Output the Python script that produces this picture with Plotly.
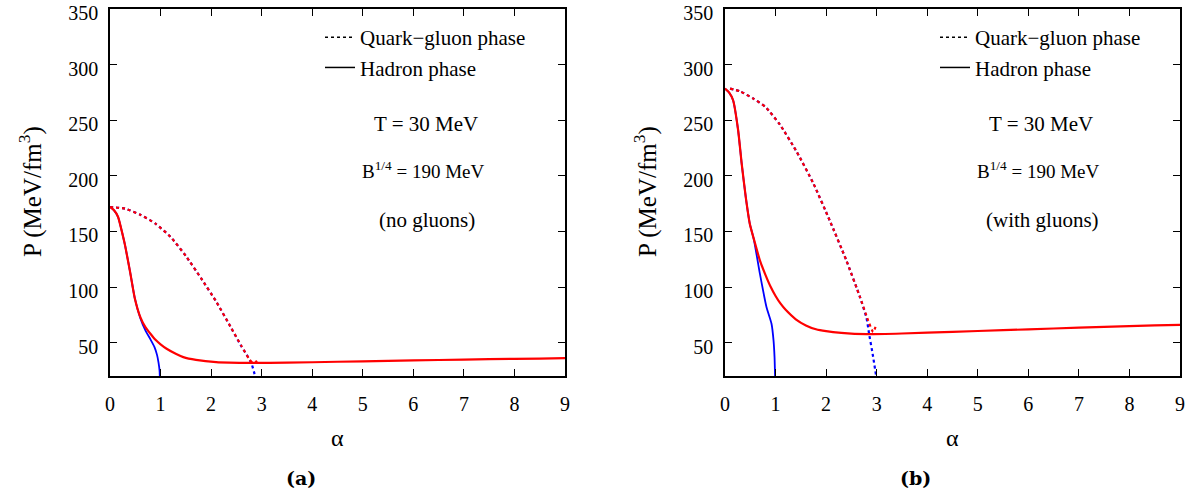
import plotly.graph_objects as go

# ---------------- data ----------------
# Panel (a): no gluons
a_had_red_x = [0, 0.08, 0.16, 0.25, 0.3, 0.4, 0.49, 0.6, 0.7, 0.8, 0.9, 1.0, 1.12, 1.3, 1.45, 1.7, 2.1, 2.8, 3.5, 4.5, 5.5, 6.5, 7.5, 8.5, 9.0]
a_had_red_y = [172, 169, 163, 147, 137, 113, 90, 73, 64, 58, 52.5, 48.5, 44.5, 40, 37, 34.5, 32.5, 31.8, 32.0, 32.8, 33.6, 34.4, 35.1, 35.7, 36.0]
a_had_blue_x = [0, 0.08, 0.16, 0.25, 0.3, 0.4, 0.49, 0.6, 0.7, 0.8, 0.88, 0.93, 0.96, 0.98, 0.985]
a_had_blue_y = [172, 169, 163, 147, 137, 113, 90, 72, 61, 53, 46, 39, 32, 25, 20]
a_qg_red_x = [0, 0.3, 0.6, 0.9, 1.2, 1.5, 1.8, 2.1, 2.4, 2.6, 2.75, 2.82, 2.88, 2.93]
a_qg_red_y = [172, 170.5, 165, 157, 145, 128, 108, 87, 63, 47, 35.5, 32, 32.5, 35.5]
a_qg_blue_x = [0, 0.3, 0.6, 0.9, 1.2, 1.5, 1.8, 2.1, 2.4, 2.6, 2.7, 2.8, 2.87]
a_qg_blue_y = [172, 170.5, 165, 157, 145, 128, 108, 87, 63, 46.5, 39.5, 31, 20]

# Panel (b): with gluons
b_had_red_x = [0, 0.08, 0.16, 0.26, 0.33, 0.41, 0.49, 0.59, 0.69, 0.8, 0.9, 1.0, 1.1, 1.2, 1.4, 1.6, 1.8, 2.0, 2.3, 2.8, 3.5, 4.5, 5.5, 6.5, 7.5, 8.5, 9.0]
b_had_red_y = [278.5, 275, 268, 241, 211, 181, 157, 140, 124, 111, 100.5, 92, 85, 79.5, 71, 65.5, 62, 60.3, 58.8, 57.6, 58.2, 59.7, 61.2, 62.7, 64.2, 65.5, 66]
b_had_blue_x = [0, 0.08, 0.16, 0.26, 0.33, 0.41, 0.49, 0.57, 0.69, 0.82, 0.92, 0.96, 0.98, 0.99]
b_had_blue_y = [278.5, 275, 268, 241, 211, 181, 157, 143, 112, 82, 67, 52, 37, 20]
b_qg_red_x = [0.1, 0.3, 0.56, 0.8, 1.087, 1.42, 1.75, 2.07, 2.4, 2.67, 2.83, 2.93, 2.96, 2.99]
b_qg_red_y = [278.5, 276, 269.5, 262, 246, 221.5, 193, 160, 124, 91, 70, 59.5, 62, 65.5]
b_qg_blue_x = [0.1, 0.3, 0.56, 0.8, 1.087, 1.42, 1.75, 2.07, 2.4, 2.67, 2.8, 2.85, 2.92, 2.99]
b_qg_blue_y = [278.5, 276, 269.5, 262, 246, 221.5, 193, 160, 124, 91, 72, 58, 40, 20]

x_ticks = [0, 1, 2, 3, 4, 5, 6, 7, 8, 9]
y_ticks = [50, 100, 150, 200, 250, 300, 350]
x_range = [0, 9]
y_range = [20, 350.05]

legend_labels = ["Quark\u2212gluon phase", "Hadron phase"]
panel_labels = ["(a)", "(b)"]
gluon_labels = ["(no gluons)", "(with gluons)"]

RED = "#ff0000"
BLUE = "#0000ff"
FONT = "Liberation Serif"

W, H = 1200, 496
def px(x):
    return x / W
def py(y):
    return 1 - y / H

fig = go.Figure()

panels = [
    ("x", "y", a_qg_blue_x, a_qg_blue_y, a_qg_red_x, a_qg_red_y,
     a_had_blue_x, a_had_blue_y, a_had_red_x, a_had_red_y, "legend"),
    ("x2", "y2", b_qg_blue_x, b_qg_blue_y, b_qg_red_x, b_qg_red_y,
     b_had_blue_x, b_had_blue_y, b_had_red_x, b_had_red_y, "legend2"),
]

for (xa, ya, qbx, qby, qrx, qry, hbx, hby, hrx, hry, leg) in panels:
    fig.add_trace(go.Scatter(x=qbx, y=qby, mode="lines", line=dict(color=BLUE, width=2.2, dash="dot", shape="spline", smoothing=0.5),
                             xaxis=xa, yaxis=ya, showlegend=False, hoverinfo="skip"))
    fig.add_trace(go.Scatter(x=qrx, y=qry, mode="lines", line=dict(color=RED, width=2.2, dash="3px,3px", shape="spline", smoothing=0.5),
                             xaxis=xa, yaxis=ya, showlegend=False, hoverinfo="skip"))
    fig.add_trace(go.Scatter(x=hbx, y=hby, mode="lines", line=dict(color=BLUE, width=1.8, shape="spline", smoothing=0.5),
                             xaxis=xa, yaxis=ya, showlegend=False, hoverinfo="skip"))
    fig.add_trace(go.Scatter(x=hrx, y=hry, mode="lines", line=dict(color=RED, width=2.2, shape="spline", smoothing=0.5),
                             xaxis=xa, yaxis=ya, showlegend=False, hoverinfo="skip"))
    # legend samples (black)
    fig.add_trace(go.Scatter(x=[None], y=[None], mode="lines", line=dict(color="black", width=1.5, dash="dot"),
                             name=legend_labels[0], xaxis=xa, yaxis=ya, legend=leg))
    fig.add_trace(go.Scatter(x=[None], y=[None], mode="lines", line=dict(color="black", width=1.5),
                             name=legend_labels[1], xaxis=xa, yaxis=ya, legend=leg))

ydom = [py(376), py(9)]
tickfont = dict(family=FONT, size=20, color="black")
axis_common = dict(showline=True, linecolor="black", linewidth=1.5, mirror="ticks", ticks="inside",
                   ticklen=7, tickwidth=1.2, tickcolor="black", showgrid=False, zeroline=False,
                   tickfont=tickfont, fixedrange=True, automargin=False, ticklabeloverflow="allow")

fig.update_layout(
    width=W, height=H,
    margin=dict(l=0, r=0, t=0, b=0, autoexpand=False),
    paper_bgcolor="white", plot_bgcolor="white",
    font=dict(family=FONT, color="black"),
    xaxis=dict(domain=[px(110), px(565)], range=x_range, tickvals=x_ticks, anchor="y", ticklabelstandoff=9, **axis_common),
    yaxis=dict(domain=ydom, range=y_range, tickvals=y_ticks, anchor="x", ticklabelstandoff=6, ticklabelshift=4, **axis_common),
    xaxis2=dict(domain=[px(725), px(1180)], range=x_range, tickvals=x_ticks, anchor="y2", ticklabelstandoff=9, **axis_common),
    yaxis2=dict(domain=ydom, range=y_range, tickvals=y_ticks, anchor="x2", ticklabelstandoff=6, ticklabelshift=4, **axis_common),
    legend=dict(x=px(320), y=py(17), xanchor="left", yanchor="top", bgcolor="rgba(0,0,0,0)",
                font=dict(family=FONT, size=21, color="black"), tracegroupgap=0),
    legend2=dict(x=px(935), y=py(17), xanchor="left", yanchor="top", bgcolor="rgba(0,0,0,0)",
                 font=dict(family=FONT, size=21, color="black"), tracegroupgap=0),
    showlegend=True,
)

ann = []
for i, (x0, x1) in enumerate([(110, 565), (725, 1180)]):
    cx = (x0 + x1) / 2
    common = dict(xref="paper", yref="paper", xanchor="center", yanchor="middle", showarrow=False)
    ann.append(dict(text="T = 30 MeV", x=px(x0 + 316), y=py(124), font=dict(family=FONT, size=21), **common))
    ann.append(dict(text="B<sup>1/4</sup> = 190 MeV", x=px(x0 + 313), y=py(170), font=dict(family=FONT, size=19), **common))
    ann.append(dict(text=gluon_labels[i], x=px(x0 + 317), y=py(220), font=dict(family=FONT, size=21), **common))
    ann.append(dict(text="α", x=px(cx), y=py(438), font=dict(family=FONT, size=24), **common))
    ann.append(dict(text="<b>" + panel_labels[i] + "</b>", x=px(cx - 37), y=py(478), font=dict(family="DejaVu Serif", size=19), **common))
    ann.append(dict(text="P (MeV/fm<sup>3</sup>)", x=px(x0 - 80), y=py(192), textangle=-90,
                    font=dict(family=FONT, size=25), **common))
fig.update_layout(annotations=ann)

fig.write_html("out.html", config={"displayModeBar": False},
               post_script="document.body.style.margin='0';document.body.style.overflow='hidden';")
